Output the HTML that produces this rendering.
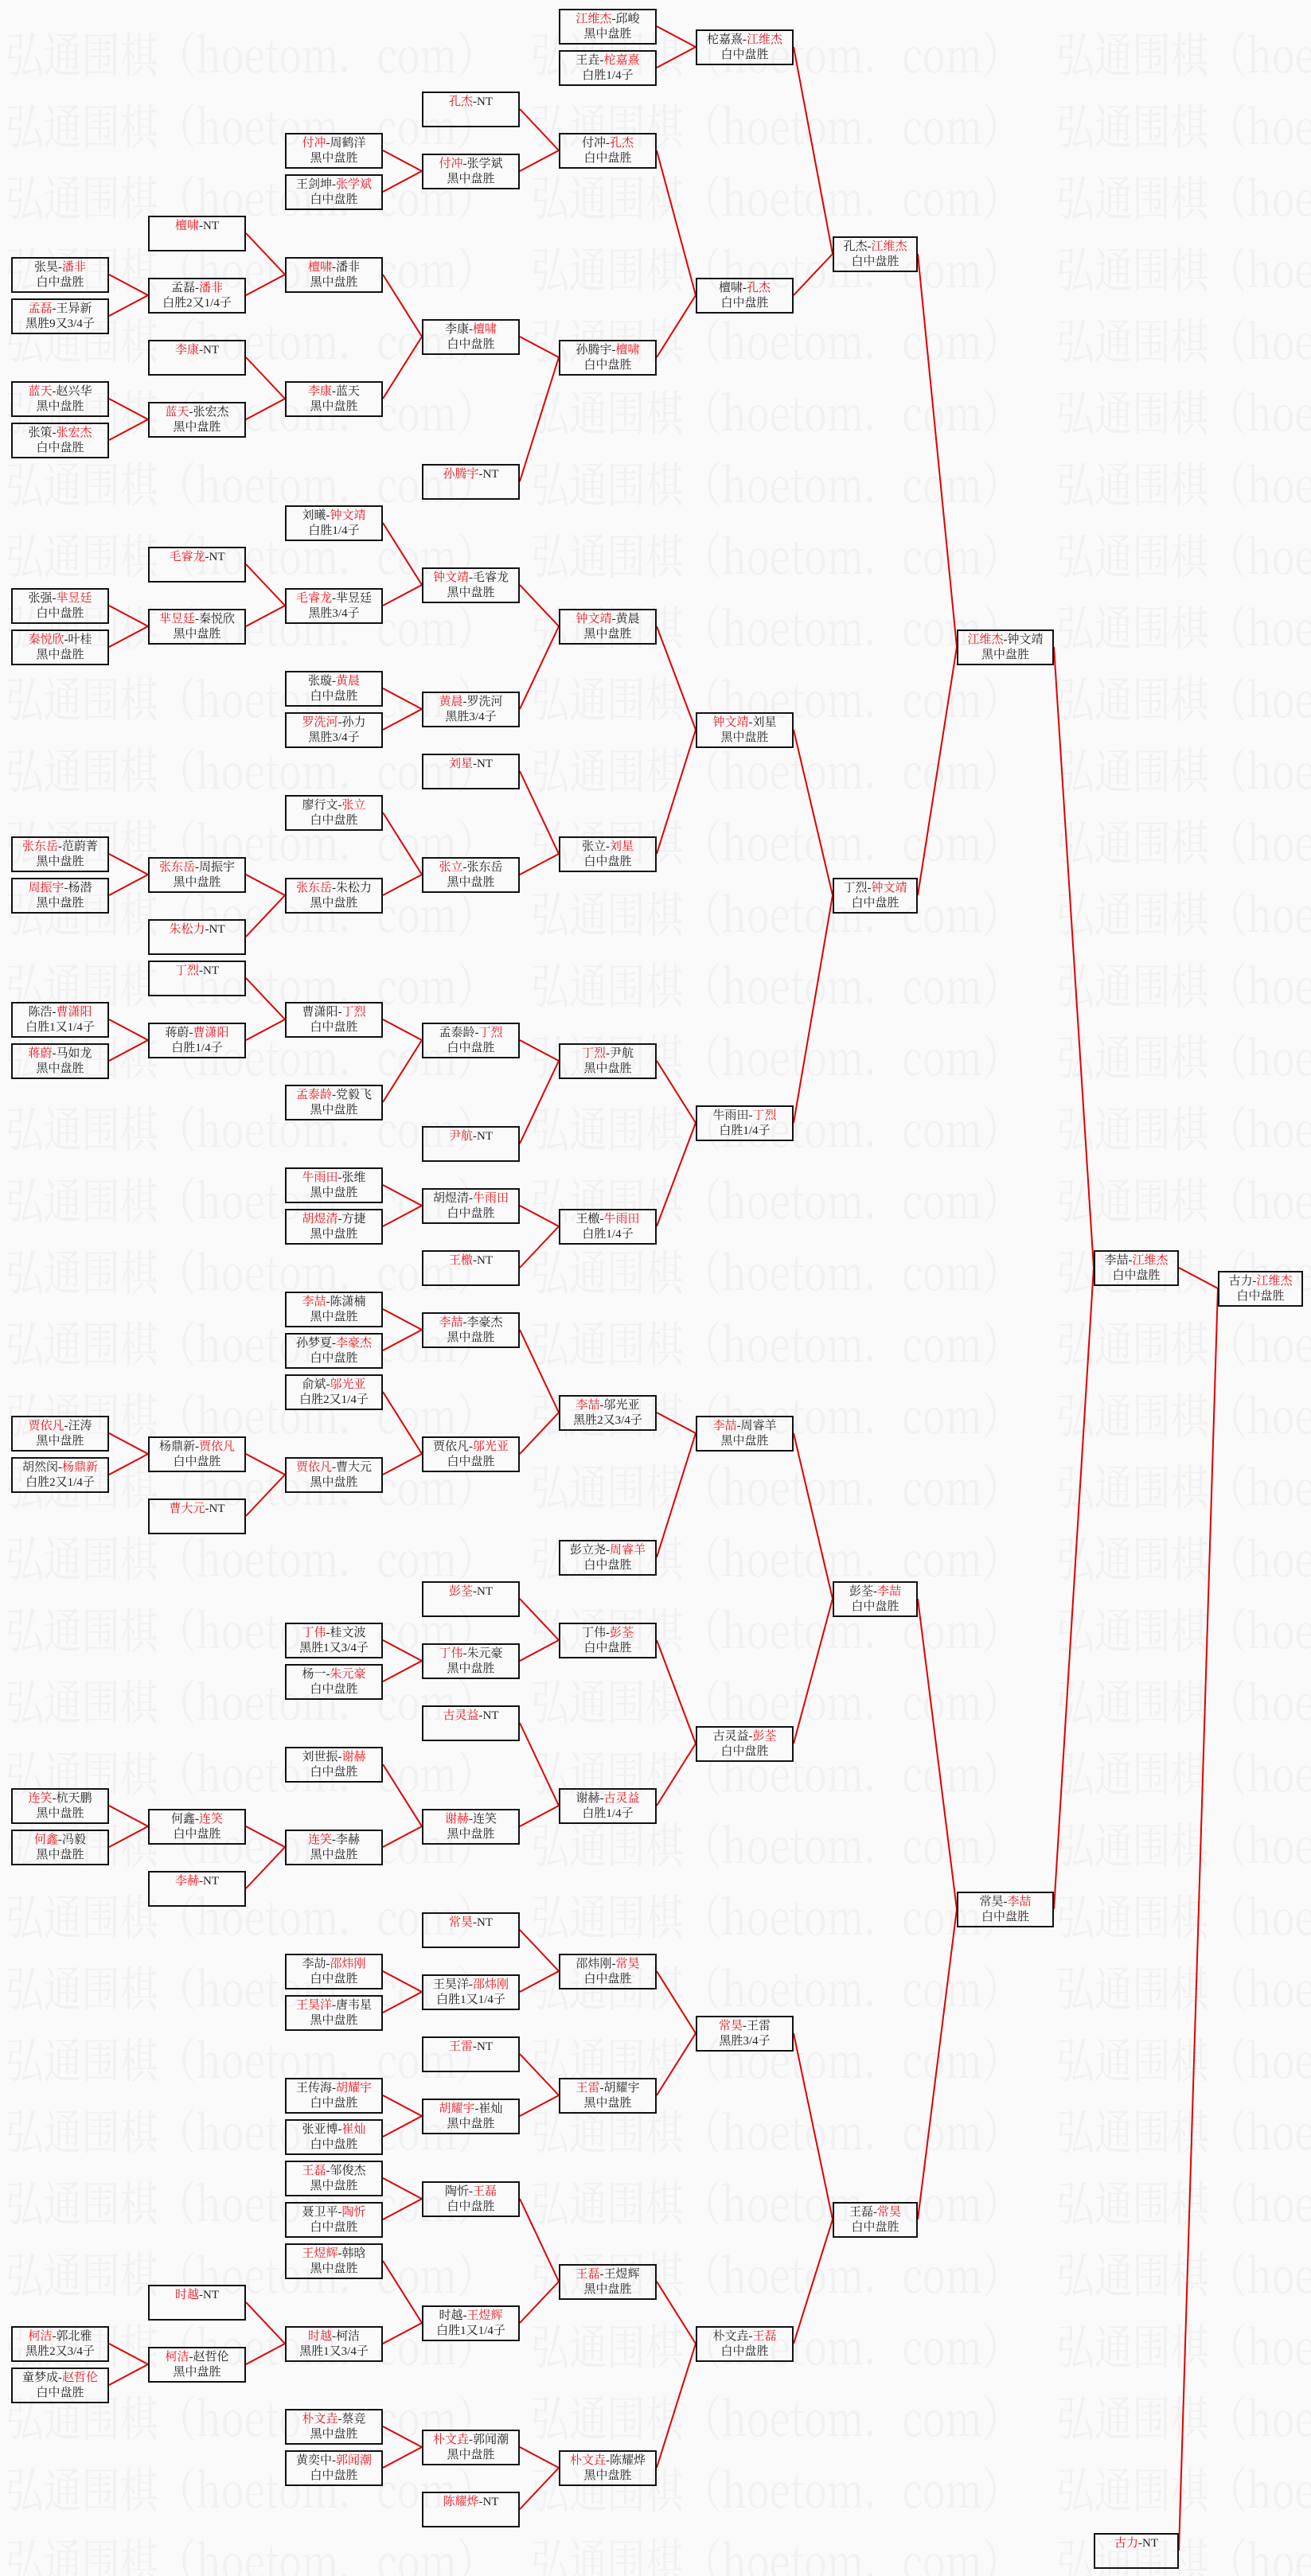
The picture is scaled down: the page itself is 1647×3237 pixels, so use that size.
<!DOCTYPE html>
<html><head><meta charset="utf-8">
<style>
html,body{margin:0;padding:0;}
body{width:1647px;height:3237px;position:relative;background:#fafafa;overflow:hidden;
font-family:"Liberation Serif","Noto Serif CJK SC","Noto Sans CJK SC",serif;}
#wm{position:absolute;left:0;top:0;}
#ln{position:absolute;left:0;top:0;}
.b{position:absolute;box-sizing:border-box;height:45px;border:2px solid #111;
top:calc(10.5px + 52px * var(--r));text-align:center;font-size:15px;line-height:19px;padding-top:2px;color:#222;white-space:nowrap;}
.c1{left:14px;width:123px}.c2{left:186px;width:123px}.c3{left:358px;width:123px}
.c4{left:530px;width:123px}.c5{left:702px;width:123px}.c6{left:874px;width:123px}
.c7{left:1046px;width:107px}.c8{left:1202px;width:122px}.c9{left:1374px;width:107px}.c10{left:1530px;width:107px}
.b i{font-style:normal;color:#e8141c}
</style></head><body>
<svg id="wm" width="1647" height="3237" font-family="Noto Serif CJK SC, serif" font-size="60" fill="#f1f1f1">
<g id="wmg"></g>
</svg>
<svg id="ln" width="1647" height="3237"><g id="lg" stroke="#e00000" stroke-width="2" fill="none"></g></svg>

<div class="b c1" style="--r:6">张昊-<i>潘非</i><br>白中盘胜</div>
<div class="b c1" style="--r:7"><i>孟磊</i>-王异新<br>黑胜9又3/4子</div>
<div class="b c1" style="--r:9"><i>蓝天</i>-赵兴华<br>黑中盘胜</div>
<div class="b c1" style="--r:10">张策-<i>张宏杰</i><br>白中盘胜</div>
<div class="b c1" style="--r:14">张强-<i>芈昱廷</i><br>白中盘胜</div>
<div class="b c1" style="--r:15"><i>秦悦欣</i>-叶桂<br>黑中盘胜</div>
<div class="b c1" style="--r:20"><i>张东岳</i>-范蔚菁<br>黑中盘胜</div>
<div class="b c1" style="--r:21"><i>周振宇</i>-杨潜<br>黑中盘胜</div>
<div class="b c1" style="--r:24">陈浩-<i>曹潇阳</i><br>白胜1又1/4子</div>
<div class="b c1" style="--r:25"><i>蒋蔚</i>-马如龙<br>黑中盘胜</div>
<div class="b c1" style="--r:34"><i>贾依凡</i>-汪涛<br>黑中盘胜</div>
<div class="b c1" style="--r:35">胡然闵-<i>杨鼎新</i><br>白胜2又1/4子</div>
<div class="b c1" style="--r:43"><i>连笑</i>-杭天鹏<br>黑中盘胜</div>
<div class="b c1" style="--r:44"><i>何鑫</i>-冯毅<br>黑中盘胜</div>
<div class="b c1" style="--r:56"><i>柯洁</i>-郭北雅<br>黑胜2又3/4子</div>
<div class="b c1" style="--r:57">童梦成-<i>赵哲伦</i><br>白中盘胜</div>

<div class="b c2" style="--r:5"><i>檀啸</i>-NT</div>
<div class="b c2" style="--r:6.5">孟磊-<i>潘非</i><br>白胜2又1/4子</div>
<div class="b c2" style="--r:8"><i>李康</i>-NT</div>
<div class="b c2" style="--r:9.5"><i>蓝天</i>-张宏杰<br>黑中盘胜</div>
<div class="b c2" style="--r:13"><i>毛睿龙</i>-NT</div>
<div class="b c2" style="--r:14.5"><i>芈昱廷</i>-秦悦欣<br>黑中盘胜</div>
<div class="b c2" style="--r:20.5"><i>张东岳</i>-周振宇<br>黑中盘胜</div>
<div class="b c2" style="--r:22"><i>朱松力</i>-NT</div>
<div class="b c2" style="--r:23"><i>丁烈</i>-NT</div>
<div class="b c2" style="--r:24.5">蒋蔚-<i>曹潇阳</i><br>白胜1/4子</div>
<div class="b c2" style="--r:34.5">杨鼎新-<i>贾依凡</i><br>白中盘胜</div>
<div class="b c2" style="--r:36"><i>曹大元</i>-NT</div>
<div class="b c2" style="--r:43.5">何鑫-<i>连笑</i><br>白中盘胜</div>
<div class="b c2" style="--r:45"><i>李赫</i>-NT</div>
<div class="b c2" style="--r:55"><i>时越</i>-NT</div>
<div class="b c2" style="--r:56.5"><i>柯洁</i>-赵哲伦<br>黑中盘胜</div>

<div class="b c3" style="--r:3"><i>付冲</i>-周鹤洋<br>黑中盘胜</div>
<div class="b c3" style="--r:4">王剑坤-<i>张学斌</i><br>白中盘胜</div>
<div class="b c3" style="--r:6"><i>檀啸</i>-潘非<br>黑中盘胜</div>
<div class="b c3" style="--r:9"><i>李康</i>-蓝天<br>黑中盘胜</div>
<div class="b c3" style="--r:12">刘曦-<i>钟文靖</i><br>白胜1/4子</div>
<div class="b c3" style="--r:14"><i>毛睿龙</i>-芈昱廷<br>黑胜3/4子</div>
<div class="b c3" style="--r:16">张璇-<i>黄晨</i><br>白中盘胜</div>
<div class="b c3" style="--r:17"><i>罗洗河</i>-孙力<br>黑胜3/4子</div>
<div class="b c3" style="--r:19">廖行文-<i>张立</i><br>白中盘胜</div>
<div class="b c3" style="--r:21"><i>张东岳</i>-朱松力<br>黑中盘胜</div>
<div class="b c3" style="--r:24">曹潇阳-<i>丁烈</i><br>白中盘胜</div>
<div class="b c3" style="--r:26"><i>孟泰龄</i>-党毅飞<br>黑中盘胜</div>
<div class="b c3" style="--r:28"><i>牛雨田</i>-张维<br>黑中盘胜</div>
<div class="b c3" style="--r:29"><i>胡煜清</i>-方捷<br>黑中盘胜</div>
<div class="b c3" style="--r:31"><i>李喆</i>-陈潇楠<br>黑中盘胜</div>
<div class="b c3" style="--r:32">孙梦夏-<i>李豪杰</i><br>白中盘胜</div>
<div class="b c3" style="--r:33">俞斌-<i>邬光亚</i><br>白胜2又1/4子</div>
<div class="b c3" style="--r:35"><i>贾依凡</i>-曹大元<br>黑中盘胜</div>
<div class="b c3" style="--r:39"><i>丁伟</i>-桂文波<br>黑胜1又3/4子</div>
<div class="b c3" style="--r:40">杨一-<i>朱元豪</i><br>白中盘胜</div>
<div class="b c3" style="--r:42">刘世振-<i>谢赫</i><br>白中盘胜</div>
<div class="b c3" style="--r:44"><i>连笑</i>-李赫<br>黑中盘胜</div>
<div class="b c3" style="--r:47">李劼-<i>邵炜刚</i><br>白中盘胜</div>
<div class="b c3" style="--r:48"><i>王昊洋</i>-唐韦星<br>黑中盘胜</div>
<div class="b c3" style="--r:50">王传海-<i>胡耀宇</i><br>白中盘胜</div>
<div class="b c3" style="--r:51">张亚博-<i>崔灿</i><br>白中盘胜</div>
<div class="b c3" style="--r:52"><i>王磊</i>-邹俊杰<br>黑中盘胜</div>
<div class="b c3" style="--r:53">聂卫平-<i>陶忻</i><br>白中盘胜</div>
<div class="b c3" style="--r:54"><i>王煜辉</i>-韩晗<br>黑中盘胜</div>
<div class="b c3" style="--r:56"><i>时越</i>-柯洁<br>黑胜1又3/4子</div>
<div class="b c3" style="--r:58"><i>朴文垚</i>-蔡竞<br>黑中盘胜</div>
<div class="b c3" style="--r:59">黄奕中-<i>郭闻潮</i><br>白中盘胜</div>

<div class="b c4" style="--r:2"><i>孔杰</i>-NT</div>
<div class="b c4" style="--r:3.5"><i>付冲</i>-张学斌<br>黑中盘胜</div>
<div class="b c4" style="--r:7.5">李康-<i>檀啸</i><br>白中盘胜</div>
<div class="b c4" style="--r:11"><i>孙腾宇</i>-NT</div>
<div class="b c4" style="--r:13.5"><i>钟文靖</i>-毛睿龙<br>黑中盘胜</div>
<div class="b c4" style="--r:16.5"><i>黄晨</i>-罗洗河<br>黑胜3/4子</div>
<div class="b c4" style="--r:18"><i>刘星</i>-NT</div>
<div class="b c4" style="--r:20.5"><i>张立</i>-张东岳<br>黑中盘胜</div>
<div class="b c4" style="--r:24.5">孟泰龄-<i>丁烈</i><br>白中盘胜</div>
<div class="b c4" style="--r:27"><i>尹航</i>-NT</div>
<div class="b c4" style="--r:28.5">胡煜清-<i>牛雨田</i><br>白中盘胜</div>
<div class="b c4" style="--r:30"><i>王檄</i>-NT</div>
<div class="b c4" style="--r:31.5"><i>李喆</i>-李豪杰<br>黑中盘胜</div>
<div class="b c4" style="--r:34.5">贾依凡-<i>邬光亚</i><br>白中盘胜</div>
<div class="b c4" style="--r:38"><i>彭荃</i>-NT</div>
<div class="b c4" style="--r:39.5"><i>丁伟</i>-朱元豪<br>黑中盘胜</div>
<div class="b c4" style="--r:41"><i>古灵益</i>-NT</div>
<div class="b c4" style="--r:43.5"><i>谢赫</i>-连笑<br>黑中盘胜</div>
<div class="b c4" style="--r:46"><i>常昊</i>-NT</div>
<div class="b c4" style="--r:47.5">王昊洋-<i>邵炜刚</i><br>白胜1又1/4子</div>
<div class="b c4" style="--r:49"><i>王雷</i>-NT</div>
<div class="b c4" style="--r:50.5"><i>胡耀宇</i>-崔灿<br>黑中盘胜</div>
<div class="b c4" style="--r:52.5">陶忻-<i>王磊</i><br>白中盘胜</div>
<div class="b c4" style="--r:55.5">时越-<i>王煜辉</i><br>白胜1又1/4子</div>
<div class="b c4" style="--r:58.5"><i>朴文垚</i>-郭闻潮<br>黑中盘胜</div>
<div class="b c4" style="--r:60"><i>陈耀烨</i>-NT</div>

<div class="b c5" style="--r:0"><i>江维杰</i>-邱峻<br>黑中盘胜</div>
<div class="b c5" style="--r:1">王垚-<i>柁嘉熹</i><br>白胜1/4子</div>
<div class="b c5" style="--r:3">付冲-<i>孔杰</i><br>白中盘胜</div>
<div class="b c5" style="--r:8">孙腾宇-<i>檀啸</i><br>白中盘胜</div>
<div class="b c5" style="--r:14.5"><i>钟文靖</i>-黄晨<br>黑中盘胜</div>
<div class="b c5" style="--r:20">张立-<i>刘星</i><br>白中盘胜</div>
<div class="b c5" style="--r:25"><i>丁烈</i>-尹航<br>黑中盘胜</div>
<div class="b c5" style="--r:29">王檄-<i>牛雨田</i><br>白胜1/4子</div>
<div class="b c5" style="--r:33.5"><i>李喆</i>-邬光亚<br>黑胜2又3/4子</div>
<div class="b c5" style="--r:37">彭立尧-<i>周睿羊</i><br>白中盘胜</div>
<div class="b c5" style="--r:39">丁伟-<i>彭荃</i><br>白中盘胜</div>
<div class="b c5" style="--r:43">谢赫-<i>古灵益</i><br>白胜1/4子</div>
<div class="b c5" style="--r:47">邵炜刚-<i>常昊</i><br>白中盘胜</div>
<div class="b c5" style="--r:50"><i>王雷</i>-胡耀宇<br>黑中盘胜</div>
<div class="b c5" style="--r:54.5"><i>王磊</i>-王煜辉<br>黑中盘胜</div>
<div class="b c5" style="--r:59"><i>朴文垚</i>-陈耀烨<br>黑中盘胜</div>

<div class="b c6" style="--r:0.5">柁嘉熹-<i>江维杰</i><br>白中盘胜</div>
<div class="b c6" style="--r:6.5">檀啸-<i>孔杰</i><br>白中盘胜</div>
<div class="b c6" style="--r:17"><i>钟文靖</i>-刘星<br>黑中盘胜</div>
<div class="b c6" style="--r:26.5">牛雨田-<i>丁烈</i><br>白胜1/4子</div>
<div class="b c6" style="--r:34"><i>李喆</i>-周睿羊<br>黑中盘胜</div>
<div class="b c6" style="--r:41.5">古灵益-<i>彭荃</i><br>白中盘胜</div>
<div class="b c6" style="--r:48.5"><i>常昊</i>-王雷<br>黑胜3/4子</div>
<div class="b c6" style="--r:56">朴文垚-<i>王磊</i><br>白中盘胜</div>

<div class="b c7" style="--r:5.5">孔杰-<i>江维杰</i><br>白中盘胜</div>
<div class="b c7" style="--r:21">丁烈-<i>钟文靖</i><br>白中盘胜</div>
<div class="b c7" style="--r:38">彭荃-<i>李喆</i><br>白中盘胜</div>
<div class="b c7" style="--r:53">王磊-<i>常昊</i><br>白中盘胜</div>

<div class="b c8" style="--r:15"><i>江维杰</i>-钟文靖<br>黑中盘胜</div>
<div class="b c8" style="--r:45.5">常昊-<i>李喆</i><br>白中盘胜</div>

<div class="b c9" style="--r:30">李喆-<i>江维杰</i><br>白中盘胜</div>
<div class="b c9" style="--r:61"><i>古力</i>-NT</div>

<div class="b c10" style="--r:30.5">古力-<i>江维杰</i><br>白中盘胜</div>

<script>
(function(){
var NS="http://www.w3.org/2000/svg";
var wg=document.getElementById("wmg");
for(var k=0;k<37;k++){
  for(var j=0;j<3;j++){
    var t=document.createElementNS(NS,"text");
    t.setAttribute("x",7+660*j);t.setAttribute("y",91+90*k);
    t.setAttribute("textLength","615");t.setAttribute("lengthAdjust","spacingAndGlyphs");
    t.textContent="\u5f18\u901a\u56f4\u68cb\uff08hoetom\uff0ecom\uff09";
    wg.appendChild(t);
  }
}
var L={1:14,2:186,3:358,4:530,5:702,6:874,7:1046,8:1202,9:1374,10:1530};
var W={1:123,2:123,3:123,4:123,5:123,6:123,7:107,8:122,9:107,10:107};
var E=[
[1,6,7,2,6.5],[1,9,10,2,9.5],[1,14,15,2,14.5],[1,20,21,2,20.5],[1,24,25,2,24.5],[1,34,35,2,34.5],[1,43,44,2,43.5],[1,56,57,2,56.5],
[2,5,6.5,3,6],[2,8,9.5,3,9],[2,13,14.5,3,14],[2,20.5,22,3,21],[2,23,24.5,3,24],[2,34.5,36,3,35],[2,43.5,45,3,44],[2,55,56.5,3,56],
[3,3,4,4,3.5],[3,6,9,4,7.5],[3,12,14,4,13.5],[3,16,17,4,16.5],[3,19,21,4,20.5],[3,24,26,4,24.5],[3,28,29,4,28.5],[3,31,32,4,31.5],[3,33,35,4,34.5],[3,39,40,4,39.5],[3,42,44,4,43.5],[3,47,48,4,47.5],[3,50,51,4,50.5],[3,52,53,4,52.5],[3,54,56,4,55.5],[3,58,59,4,58.5],
[4,2,3.5,5,3],[4,7.5,11,5,8],[4,13.5,16.5,5,14.5],[4,18,20.5,5,20],[4,24.5,27,5,25],[4,28.5,30,5,29],[4,31.5,34.5,5,33.5],[4,38,39.5,5,39],[4,41,43.5,5,43],[4,46,47.5,5,47],[4,49,50.5,5,50],[4,52.5,55.5,5,54.5],[4,58.5,60,5,59],
[5,0,1,6,0.5],[5,3,8,6,6.5],[5,14.5,20,6,17],[5,25,29,6,26.5],[5,33.5,37,6,34],[5,39,43,6,41.5],[5,47,50,6,48.5],[5,54.5,59,6,56],
[6,0.5,6.5,7,5.5],[6,17,26.5,7,21],[6,34,41.5,7,38],[6,48.5,56,7,53],
[7,5.5,21,8,15],[7,38,53,8,45.5],
[8,15,45.5,9,30],
[9,30,61,10,30.5]
];
var g=document.getElementById("lg");
function cy(r){return 33+52*r;}
E.forEach(function(e){
  var c=e[0],p=e[3],x1=L[c]+W[c],x2=L[p];
  [e[1],e[2]].forEach(function(r){
    var l=document.createElementNS(NS,"line");
    l.setAttribute("x1",x1);l.setAttribute("y1",cy(r));
    l.setAttribute("x2",x2);l.setAttribute("y2",cy(e[4]));
    g.appendChild(l);
  });
});
})();
</script>
</body></html>
